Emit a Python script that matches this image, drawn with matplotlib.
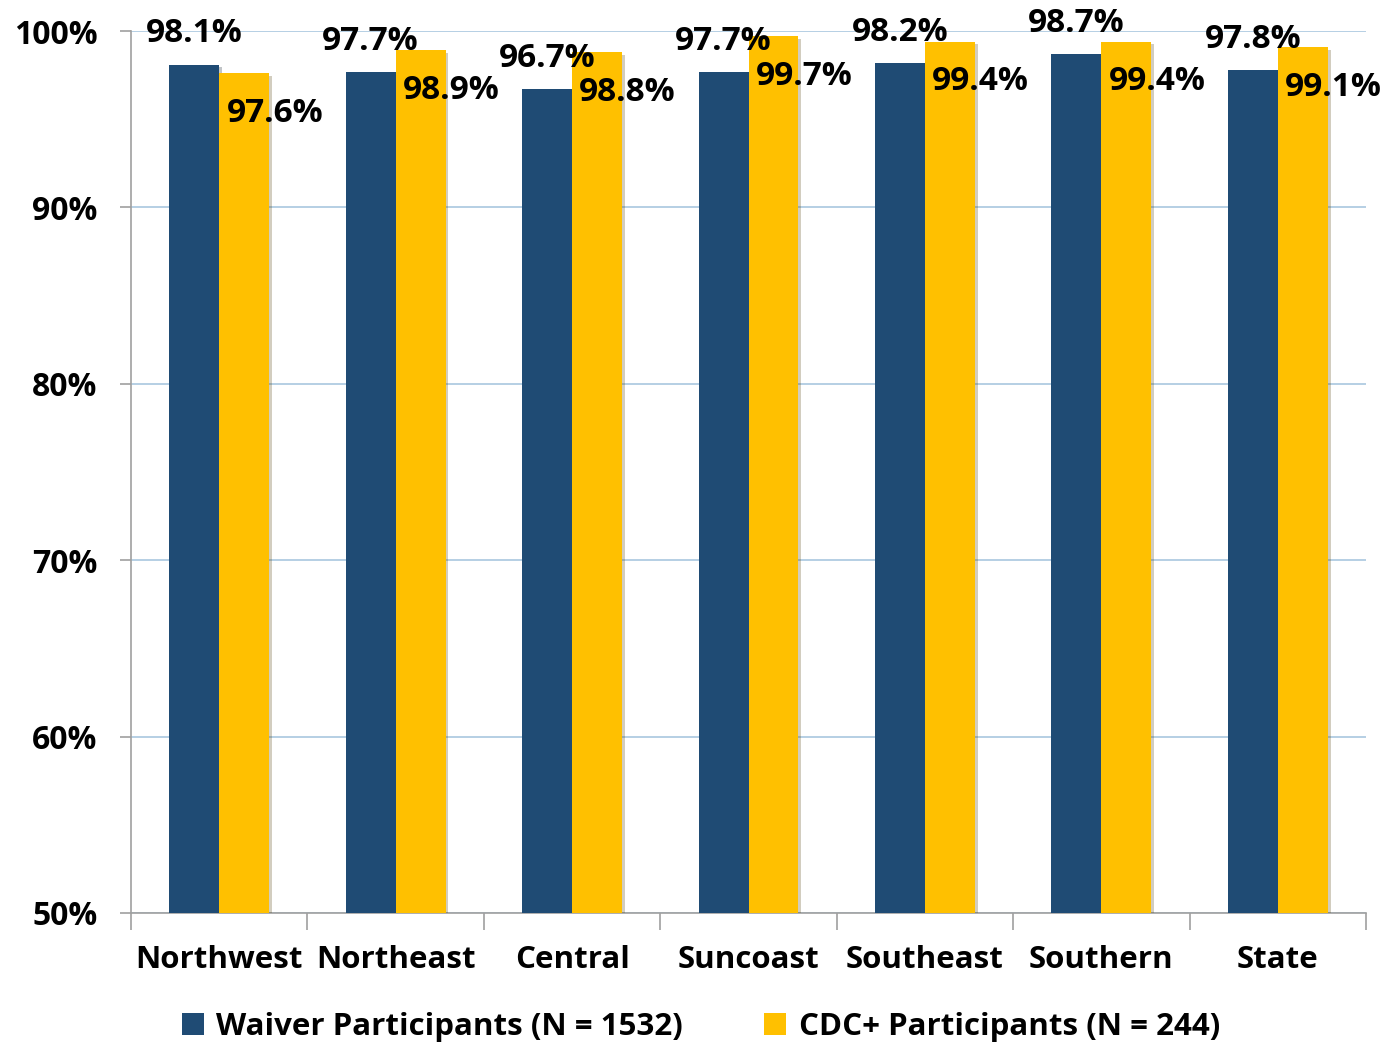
import matplotlib.pyplot as plt
import matplotlib.patheffects as pe
import numpy as np

# regions and percentages
regions = ['Northwest', 'Northeast', 'Central', 'Suncoast', 'Southeast', 'Southern', 'State']
waiver = [98.1, 97.7, 96.7, 97.7, 98.2, 98.7, 97.8]
cdc = [97.6, 98.9, 98.8, 99.7, 99.4, 99.4, 99.1]
series_names = ['Waiver Participants (N = 1532)', 'CDC+ Participants (N = 244)']
yticks = [50, 60, 70, 80, 90, 100]

blue = '#1F4B74'
gold = '#FFC000'

plt.rcParams['font.family'] = ['Open Sans', 'DejaVu Sans']
plt.rcParams['font.weight'] = 'bold'

fig = plt.figure(figsize=(13.8, 10.44), dpi=100)
ax = fig.add_axes([0.0949, 0.1255, 0.895, 0.8448])

x = np.arange(len(regions))
w = 0.283

b1 = ax.bar(x - w / 2, [v - 50 for v in waiver], w, bottom=50, color=blue,
            label=series_names[0], zorder=3)
b2 = ax.bar(x + w / 2, [v - 50 for v in cdc], w, bottom=50, color=gold,
            label=series_names[1], zorder=3)

# labels: waiver above the bar, cdc+ hanging off the right edge
for i in range(len(regions)):
    ax.annotate(f'{waiver[i]:.1f}%', (x[i] - w / 2, waiver[i]), xytext=(0, 22),
                textcoords='offset points', ha='center', va='center',
                fontsize=24, fontweight='bold', zorder=5, annotation_clip=False)
    ax.annotate(f'{cdc[i]:.1f}%', (x[i] + w / 2, cdc[i]), xytext=(22, -29),
                textcoords='offset points', ha='center', va='center',
                fontsize=24, fontweight='bold', zorder=5, annotation_clip=False)

ax.set_ylim(50, 100)
ax.set_xlim(-0.5, len(regions) - 0.5)
ax.set_yticks(yticks)
ax.set_yticklabels([f'{t}%' for t in yticks], fontsize=23, fontweight='bold')
ax.yaxis.grid(True, color='#A9C7DF', linewidth=1.2, zorder=0)
ax.set_axisbelow(True)

ax.set_xticks(x)
ax.set_xticklabels(regions, fontsize=22.5, fontweight='bold')
ax.tick_params(axis='x', length=0, pad=23)
ax.set_xticks(np.arange(-0.5, len(regions)), minor=True)
ax.tick_params(axis='x', which='minor', length=12, color='#A0A0A0', width=1.2)
ax.tick_params(axis='y', length=8, color='#A0A0A0', width=1.2, pad=16)

for s in ['top', 'right']:
    ax.spines[s].set_visible(False)
for s in ['left', 'bottom']:
    ax.spines[s].set_color('#A0A0A0')
    ax.spines[s].set_linewidth(1.2)

leg = fig.legend(loc='center', bbox_to_anchor=(0.508, 0.016), ncol=2, frameon=False,
                 prop={'size': 22.5, 'weight': 'bold'}, handlelength=0.7,
                 handleheight=0.7, handletextpad=0.4, columnspacing=2.6)

# soft drop shadow on the bars
shadow = [pe.SimplePatchShadow(offset=(2, -2), alpha=0.25), pe.Normal()]
for p in list(b1) + list(b2):
    p.set_path_effects(shadow)

fig.savefig('out.png', dpi=100)
